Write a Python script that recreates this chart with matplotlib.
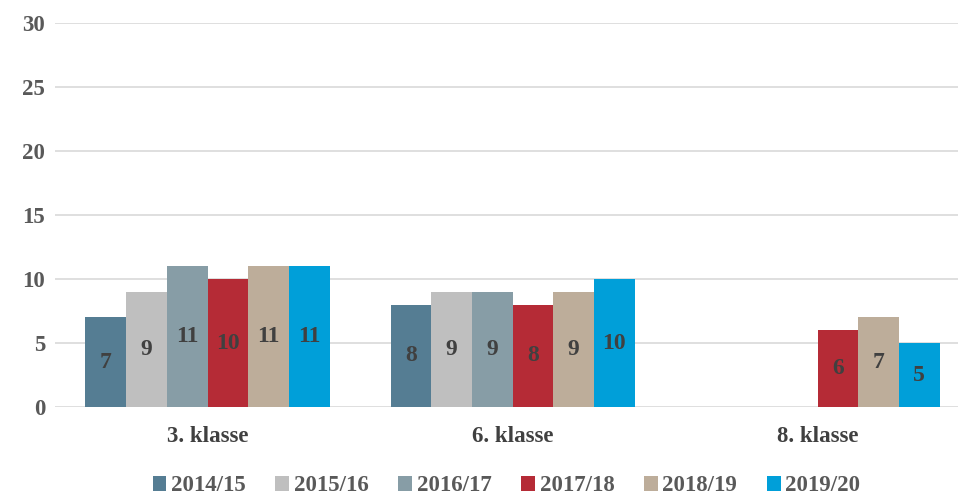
import numpy as np
import matplotlib
matplotlib.use("Agg")
import matplotlib.pyplot as plt

# data
categories = ["3. klasse", "6. klasse", "8. klasse"]
seasons = ["2014/15", "2015/16", "2016/17", "2017/18", "2018/19", "2019/20"]
values = [
    [7, 8, None],
    [9, 9, None],
    [11, 9, None],
    [10, 8, 6],
    [11, 9, 7],
    [11, 10, 5],
]
colors = ["#557d93", "#bfbfbf", "#879da6", "#b52b36", "#bdad9a", "#009fd9"]

plt.rcParams['font.family'] = ['Liberation Serif', 'DejaVu Serif']
plt.rcParams['font.weight'] = 'bold'

fig = plt.figure(figsize=(9.58, 4.96), dpi=100)
ax = fig.add_axes([0.0574, 0.1794, 0.9426, 0.7742])

x = np.arange(len(categories))
n = len(seasons)
width = 0.8 / n

for i, (season, vals, col) in enumerate(zip(seasons, values, colors)):
    xs = [xi + (i - (n - 1) / 2) * width for xi, v in zip(x, vals) if v is not None]
    ys = [v for v in vals if v is not None]
    bars = ax.bar(xs, ys, width, color=col, label=season, zorder=3)
    for b, v in zip(bars, ys):
        ax.text(b.get_x() + b.get_width() / 2, v / 2, str(v), ha='center', va='center',
                fontsize=17, fontweight='bold', color='#404040', zorder=4)

ax.set_ylim(0, 30)
ax.set_yticks(range(0, 31, 5))
ax.set_xlim(-0.5, 2.46)
ax.set_xticks(x)
ax.set_xticklabels(categories)
ax.grid(axis='y', color='#d9d9d9', linewidth=1.2, zorder=0)
for s in ax.spines.values():
    s.set_visible(False)
ax.tick_params(axis='both', length=0, labelsize=16.5, labelcolor='#595959')
ax.tick_params(axis='x', labelcolor='#404040', pad=14)
ax.tick_params(axis='y', pad=7)

leg = ax.legend(loc='upper center', bbox_to_anchor=(0.5, -0.16), ncol=6, frameon=False,
                fontsize=16.5, handlelength=0.6, handleheight=0.6, handletextpad=0.2,
                columnspacing=1.3, borderaxespad=0.2, borderpad=0.1)
for t in leg.get_texts():
    t.set_color('#595959')

fig.savefig("out.png", dpi=100)
